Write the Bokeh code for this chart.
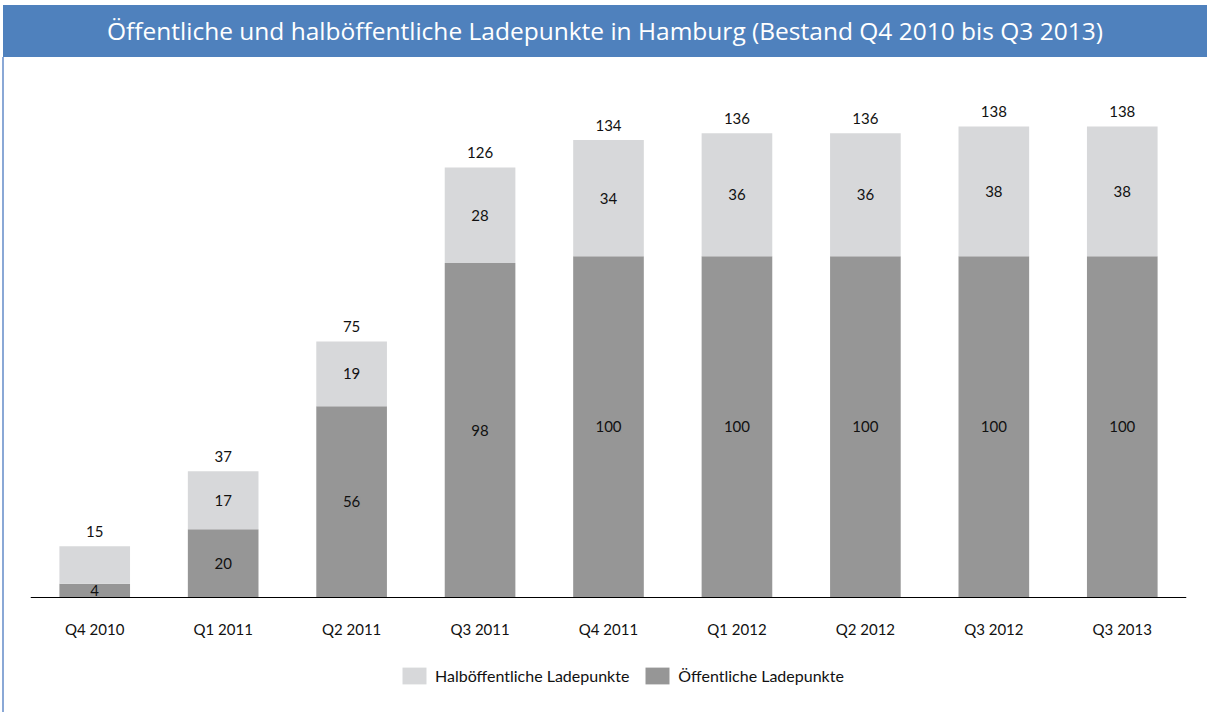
from bokeh.plotting import figure
from bokeh.models import (ColumnDataSource, FactorRange, Range1d, LabelSet, Legend,
                          LegendItem, Div)
from bokeh.core.properties import value
from bokeh.layouts import column
from bokeh.embed import file_html
from bokeh.resources import INLINE

quarters = ["Q4 2010", "Q1 2011", "Q2 2011", "Q3 2011", "Q4 2011",
            "Q1 2012", "Q2 2012", "Q3 2012", "Q3 2013"]
oeffentlich = [4, 20, 56, 98, 100, 100, 100, 100, 100]
halboeffentlich = [11, 17, 19, 28, 34, 36, 36, 38, 38]
show_halb_label = [False, True, True, True, True, True, True, True, True]

title_text = "Öffentliche und halböffentliche Ladepunkte in Hamburg (Bestand Q4 2010 bis Q3 2013)"
name_halb = "Halböffentliche Ladepunkte"
name_oeff = "Öffentliche Ladepunkte"

C_HALB = "#D7D8DA"
C_OEFF = "#969696"
FONT = "Lato"

totals = [a + b for a, b in zip(oeffentlich, halboeffentlich)]
source = ColumnDataSource(dict(
    q=quarters,
    oeff=oeffentlich,
    halb=halboeffentlich,
    total=totals,
    oeff_mid=[v / 2 for v in oeffentlich],
    oeff_txt=[str(v) for v in oeffentlich],
    total_txt=[str(v) for v in totals],
))
idx = [i for i, s in enumerate(show_halb_label) if s]
halb_src = ColumnDataSource(dict(
    q=[quarters[i] for i in idx],
    y=[oeffentlich[i] + halboeffentlich[i] / 2 for i in idx],
    txt=[str(halboeffentlich[i]) for i in idx],
))

TW = 1204
title = Div(
    text=('<div style="width:%dpx;height:52px;line-height:52px;background:#4F81BD;'
          'color:white;font-family:\'Open Sans\';font-size:24.5px;text-align:center;'
          'white-space:nowrap;margin:0;padding:0;">%s</div>') % (TW, title_text),
    width=TW, height=52, margin=(5, 0, 0, 3),
)

p = figure(
    x_range=FactorRange(factors=quarters),
    y_range=Range1d(-33.7, 158.2),
    width=1205, height=655,
    output_backend="svg", toolbar_location=None,
    min_border_left=30, min_border_right=19, min_border_top=0, min_border_bottom=0,
    margin=(0, 0, 0, 0),
)
p.outline_line_color = None
p.xgrid.visible = False
p.ygrid.visible = False
p.yaxis.visible = False
# transparent canvas border so the chart box's light-blue left edge shows through
p.border_fill_alpha = 0
p.styles = {"background": "linear-gradient(to right, white 2px, #8AA8D6 2px, "
                          "#8AA8D6 4px, white 4px)"}

rs = p.vbar_stack(["oeff", "halb"], x="q", width=0.55, source=source,
                  color=[C_OEFF, C_HALB], line_color=None)

ax = p.xaxis[0]
ax.fixed_location = 0
ax.axis_line_color = "black"
ax.axis_line_width = 1.2
ax.major_tick_line_color = None
ax.minor_tick_line_color = None
ax.major_label_standoff = 17
ax.major_label_text_font = FONT
ax.major_label_text_font_size = "15px"
ax.major_label_text_color = "#111111"

common = dict(text_font=value(FONT), text_font_size=value("15px"),
              text_color="#111111", text_align="center")
p.add_layout(LabelSet(x="q", y="total", text="total_txt", source=source,
                      text_baseline="bottom", y_offset=9, **common))
p.add_layout(LabelSet(x="q", y="y", text="txt", source=halb_src,
                      text_baseline="middle", **common))
p.add_layout(LabelSet(x="q", y="oeff_mid", text="oeff_txt", source=source,
                      text_baseline="middle", background_fill_color=C_OEFF,
                      **common))

legend = Legend(
    items=[LegendItem(label=name_halb, renderers=[rs[1]]),
           LegendItem(label=name_oeff, renderers=[rs[0]])],
    orientation="horizontal",
    location=(369, 26),
    glyph_width=30, glyph_height=21,
    label_text_font=FONT, label_text_font_size="16px", label_text_color="#111111",
    label_standoff=6, spacing=13, padding=0, margin=0,
    border_line_color=None, background_fill_alpha=0,
)
p.add_layout(legend)

layout = column(title, p, spacing=0)
open("out.html", "w").write(file_html(layout, INLINE))
